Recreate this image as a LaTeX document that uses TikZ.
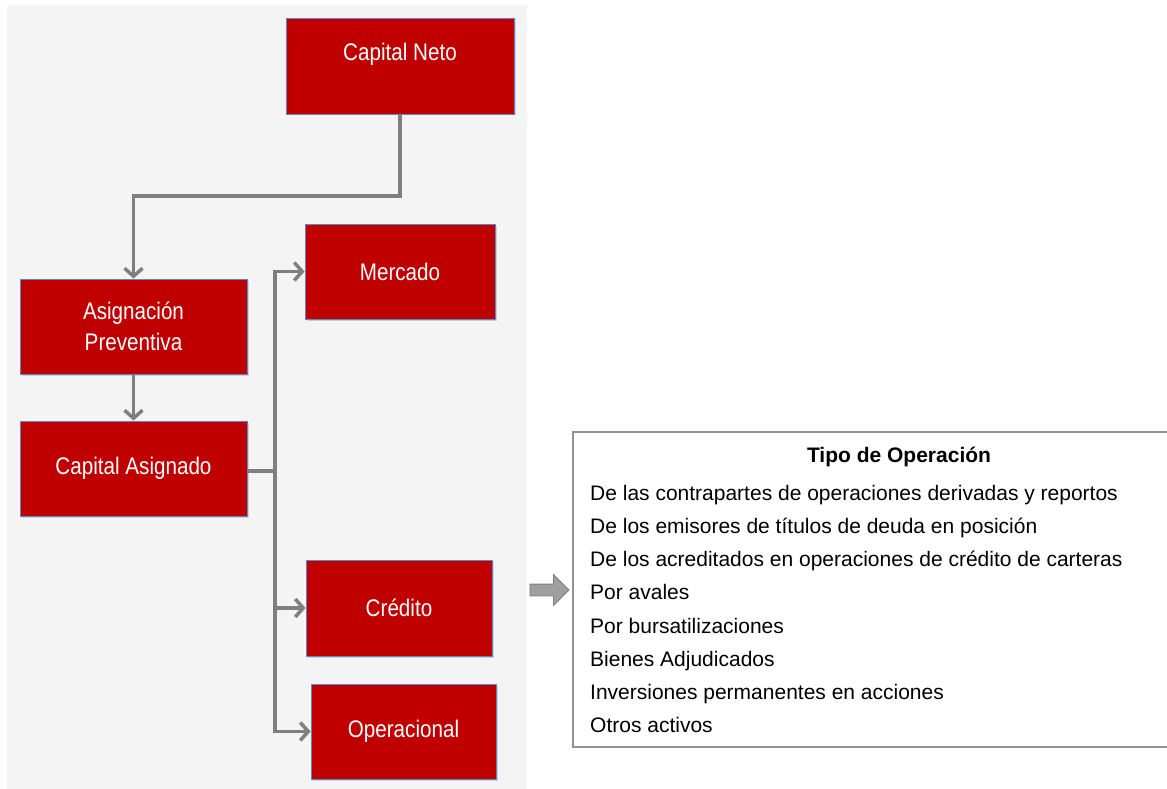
\documentclass[tikz,border=0pt]{standalone}
\usepackage{fontspec}
\setmainfont{Liberation Sans}
\newfontfamily\cajafont[FakeStretch=0.86]{Liberation Sans}
\usetikzlibrary{arrows.meta,positioning,shapes.arrows,shadows}
\definecolor{rojo}{HTML}{C00000}
\definecolor{bordeazul}{HTML}{5B87C5}
\definecolor{gris}{HTML}{7F7F7F}
\definecolor{fondo}{HTML}{F4F4F4}

\begin{document}
\begin{tikzpicture}[x=1pt,y=-1pt,
    caja/.style={
       rectangle,
       draw=bordeazul,
       line width=0.8pt,
       fill=rojo,
       text=white,
       inner sep=0pt,
       minimum height=95pt,
       align=center,
       font=\cajafont\fontsize{24}{31}\selectfont,
       drop shadow={shadow xshift=1.5pt,shadow yshift=-1.5pt,opacity=0.3}},
    conexion/.style={draw=gris,line width=3.5pt,-{Straight Barb[length=8pt,width=18pt]}},
    linea/.style={draw=gris,line width=3.5pt},
    flecha/.style={single arrow,draw=gris,fill=gris!75,line width=0.8pt,
       inner xsep=0pt,inner ysep=5.5pt,minimum height=39pt,
       single arrow head extend=9.5pt,single arrow head indent=0pt},
    tabla/.style={rectangle,draw=gris!85,line width=1.3pt,fill=white,
       minimum width=652pt,minimum height=315pt},
    titulo/.style={font=\bfseries\fontsize{21}{25}\selectfont,anchor=base},
    item/.style={font=\fontsize{21}{25}\selectfont,anchor=base west,inner sep=0pt}
    ]
    \clip (0,0) rectangle (1167,789);
    \fill[white] (0,0) rectangle (1167,789);
    \fill[fondo] (7,5) rectangle (527,789);

    \node[caja,minimum width=228pt,minimum height=96pt,
          label={[text=white,font=\cajafont\fontsize{24}{31}\selectfont,yshift=12pt]center:Capital Neto}]
          (neto) at (400,66) {};
    \node[caja,minimum width=227pt] (asig) at (133.5,326.5) {Asignación\\Preventiva};
    \node[caja,minimum width=227pt] (asg) at (133.5,468.5) {Capital Asignado};
    \node[caja,minimum width=190pt] (merc) at (400,271.5) {Mercado};
    \node[caja,minimum width=186pt,minimum height=96pt] (cred) at (399,608) {Crédito};
    \node[caja,minimum width=185pt] (oper) at (403.5,731.5) {Operacional};

    % connectors
    \coordinate (codo) at (133.5,196);
    \coordinate (tronco) at (275,471);
    \draw[conexion] (neto.south) |- (codo) -- (asig.north);
    \draw[conexion] (asig) -- (asg);
    \draw[linea] (asg.east |- tronco) -- (tronco);
    \foreach \t in {merc,cred,oper}
      \draw[conexion] (tronco) |- (\t.west);

    \node[flecha] (paso) at (546.5,590) {};

    % table of operation types
    \node[tabla] (tipo) at (899,589.5) {};
    \node[titulo] (tit) at (899,462) {Tipo de Operación};
    \foreach \txt [count=\i] in {%
      De las contrapartes de operaciones derivadas y reportos,
      De los emisores de títulos de deuda en posición,
      De los acreditados en operaciones de crédito de carteras,
      Por avales,
      Por bursatilizaciones,
      Bienes Adjudicados,
      Inversiones permanentes en acciones,
      Otros activos}
      \node[item] (op\i) at (590,{467.4+33.14*\i}) {\txt};
\end{tikzpicture}
\end{document}
